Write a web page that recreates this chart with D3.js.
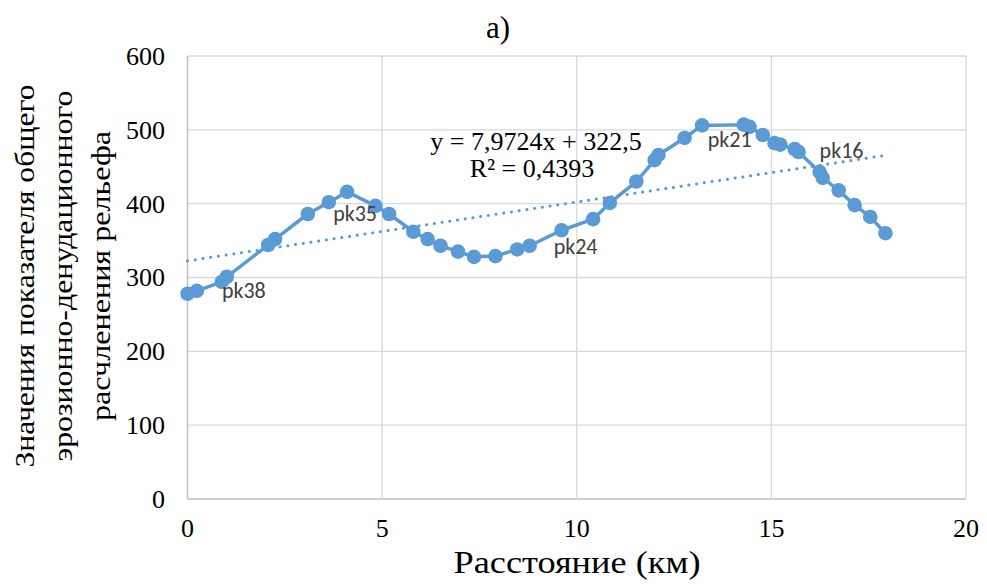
<!DOCTYPE html>
<html><head><meta charset="utf-8">
<script src="https://cdn.jsdelivr.net/npm/d3@7"></script>
<style>body{margin:0;background:#fff}svg{display:block}</style>
</head><body>
<svg id="c" width="987" height="585"></svg>
<script>
const distanceKm = [0,0.24,0.88,1.01,2.07,2.25,3.09,3.63,4.10,4.83,5.18,5.80,6.17,6.50,6.95,7.36,7.91,8.47,8.79,9.61,10.42,10.85,11.53,12.0,12.1,12.77,13.22,14.29,14.44,14.78,15.08,15.23,15.6,15.7,16.24,16.32,16.73,17.14,17.54,17.93];
const indexValues = [278,282,294,301,344,352,386,402,416,397,386,362,352,343,335,328,329,338,343,364,379,401,430,459,466,489,506,507,504,493,482,480,474,470,443,435,418,398,382,360];
const pointLabels = [{i:3,t:"pk38"},{i:8,t:"pk35"},{i:19,t:"pk24"},{i:27,t:"pk21"},{i:33,t:"pk16"}];
const trendSlope = 7.9724, trendIntercept = 322.5;
const xTicks = [0,5,10,15,20];
const yTicks = [0,100,200,300,400,500,600];
const titleText = "a)";
const xTitle = "Расстояние (км)";
const yTitleLines = ["Значения показателя общего","эрозионно-денудационного","расчленения рельефа"];
const eqLines = ["y = 7,9724x + 322,5","R² = 0,4393"];

const svg = d3.select("#c");
const L=187.5, R=966, T=56, B=499;
const x = d3.scaleLinear().domain([0,20]).range([L,R]);
const y = d3.scaleLinear().domain([0,600]).range([B,T]);
const blue = "#5B9BD5";
const serif = "'Liberation Serif', 'Times New Roman', serif";

// gridlines
svg.append("g").selectAll("line").data(yTicks).join("line")
  .attr("x1",L).attr("x2",R).attr("y1",d=>y(d)).attr("y2",d=>y(d))
  .attr("stroke",d=>d===0?"#BFBFBF":"#D9D9D9").attr("stroke-width",d=>d===0?1.5:1.3);
svg.append("g").selectAll("line").data(xTicks).join("line")
  .attr("y1",T).attr("y2",B).attr("x1",d=>x(d)).attr("x2",d=>x(d))
  .attr("stroke",d=>d===0?"#BFBFBF":"#D9D9D9").attr("stroke-width",d=>d===0?1.5:1.3);

// tick labels
svg.append("g").selectAll("text").data(yTicks).join("text")
  .attr("x",165).attr("y",d=>y(d)).attr("dy","0.34em").attr("text-anchor","end")
  .style("font-family",serif).attr("font-size",26).attr("fill","#000").text(d=>d);
svg.append("g").selectAll("text").data(xTicks).join("text")
  .attr("x",d=>x(d)).attr("y",537).attr("text-anchor","middle")
  .style("font-family",serif).attr("font-size",26).attr("fill","#000").text(d=>d);

// titles
svg.append("text").attr("x",498).attr("y",38).attr("text-anchor","middle")
  .style("font-family",serif).attr("font-size",31).text(titleText);
svg.append("text").attr("x",577).attr("y",573).attr("text-anchor","middle")
  .style("font-family",serif).attr("font-size",32)
  .attr("textLength",247).attr("lengthAdjust","spacingAndGlyphs").text(xTitle);
const yLens=[383,371,290];
yTitleLines.forEach((s,k)=>{
  svg.append("text").attr("transform",`translate(${34+k*38},276) rotate(-90)`)
    .attr("text-anchor","middle").style("font-family",serif).attr("font-size",28)
    .attr("textLength",yLens[k]).attr("lengthAdjust","spacingAndGlyphs").text(s);
});

// trendline
const tx=[0,d3.max(distanceKm)];
svg.append("line").attr("x1",x(tx[0])).attr("x2",x(tx[1]))
  .attr("y1",y(trendIntercept+trendSlope*tx[0])).attr("y2",y(trendIntercept+trendSlope*tx[1]))
  .attr("stroke",blue).attr("stroke-width",3).attr("stroke-linecap","round")
  .attr("stroke-dasharray","0.1 7.7");

// data line
const pts = distanceKm.map((d,i)=>[d,indexValues[i]]);
svg.append("path").datum(pts).attr("fill","none").attr("stroke",blue).attr("stroke-width",3.5)
  .attr("stroke-linejoin","round")
  .attr("d",d3.line().x(d=>x(d[0])).y(d=>y(d[1])));
svg.append("g").selectAll("circle").data(pts).join("circle")
  .attr("cx",d=>x(d[0])).attr("cy",d=>y(d[1])).attr("r",7.3).attr("fill",blue);

// point labels (offsets in px relative to the labelled point)
const off = {3:[17,21,"middle"],8:[8,29,"middle"],19:[14,24,"middle"],27:[-14,22,"middle"],33:[21,6,"start"]};
svg.append("g").selectAll("text").data(pointLabels).join("text")
  .attr("x",d=>x(distanceKm[d.i])+off[d.i][0]).attr("y",d=>y(indexValues[d.i])+off[d.i][1])
  .attr("text-anchor",d=>off[d.i][2])
  .style("font-family","Carlito, Calibri, 'Open Sans', sans-serif").attr("font-size",22).attr("fill","#404040")
  .text(d=>d.t);

// equation
eqLines.forEach((s,k)=>{
  svg.append("text").attr("x",k?532:536).attr("y",150+k*27).attr("text-anchor","middle")
    .style("font-family",serif).attr("font-size",26).attr("fill","#000").text(s);
});
</script>
</body></html>
